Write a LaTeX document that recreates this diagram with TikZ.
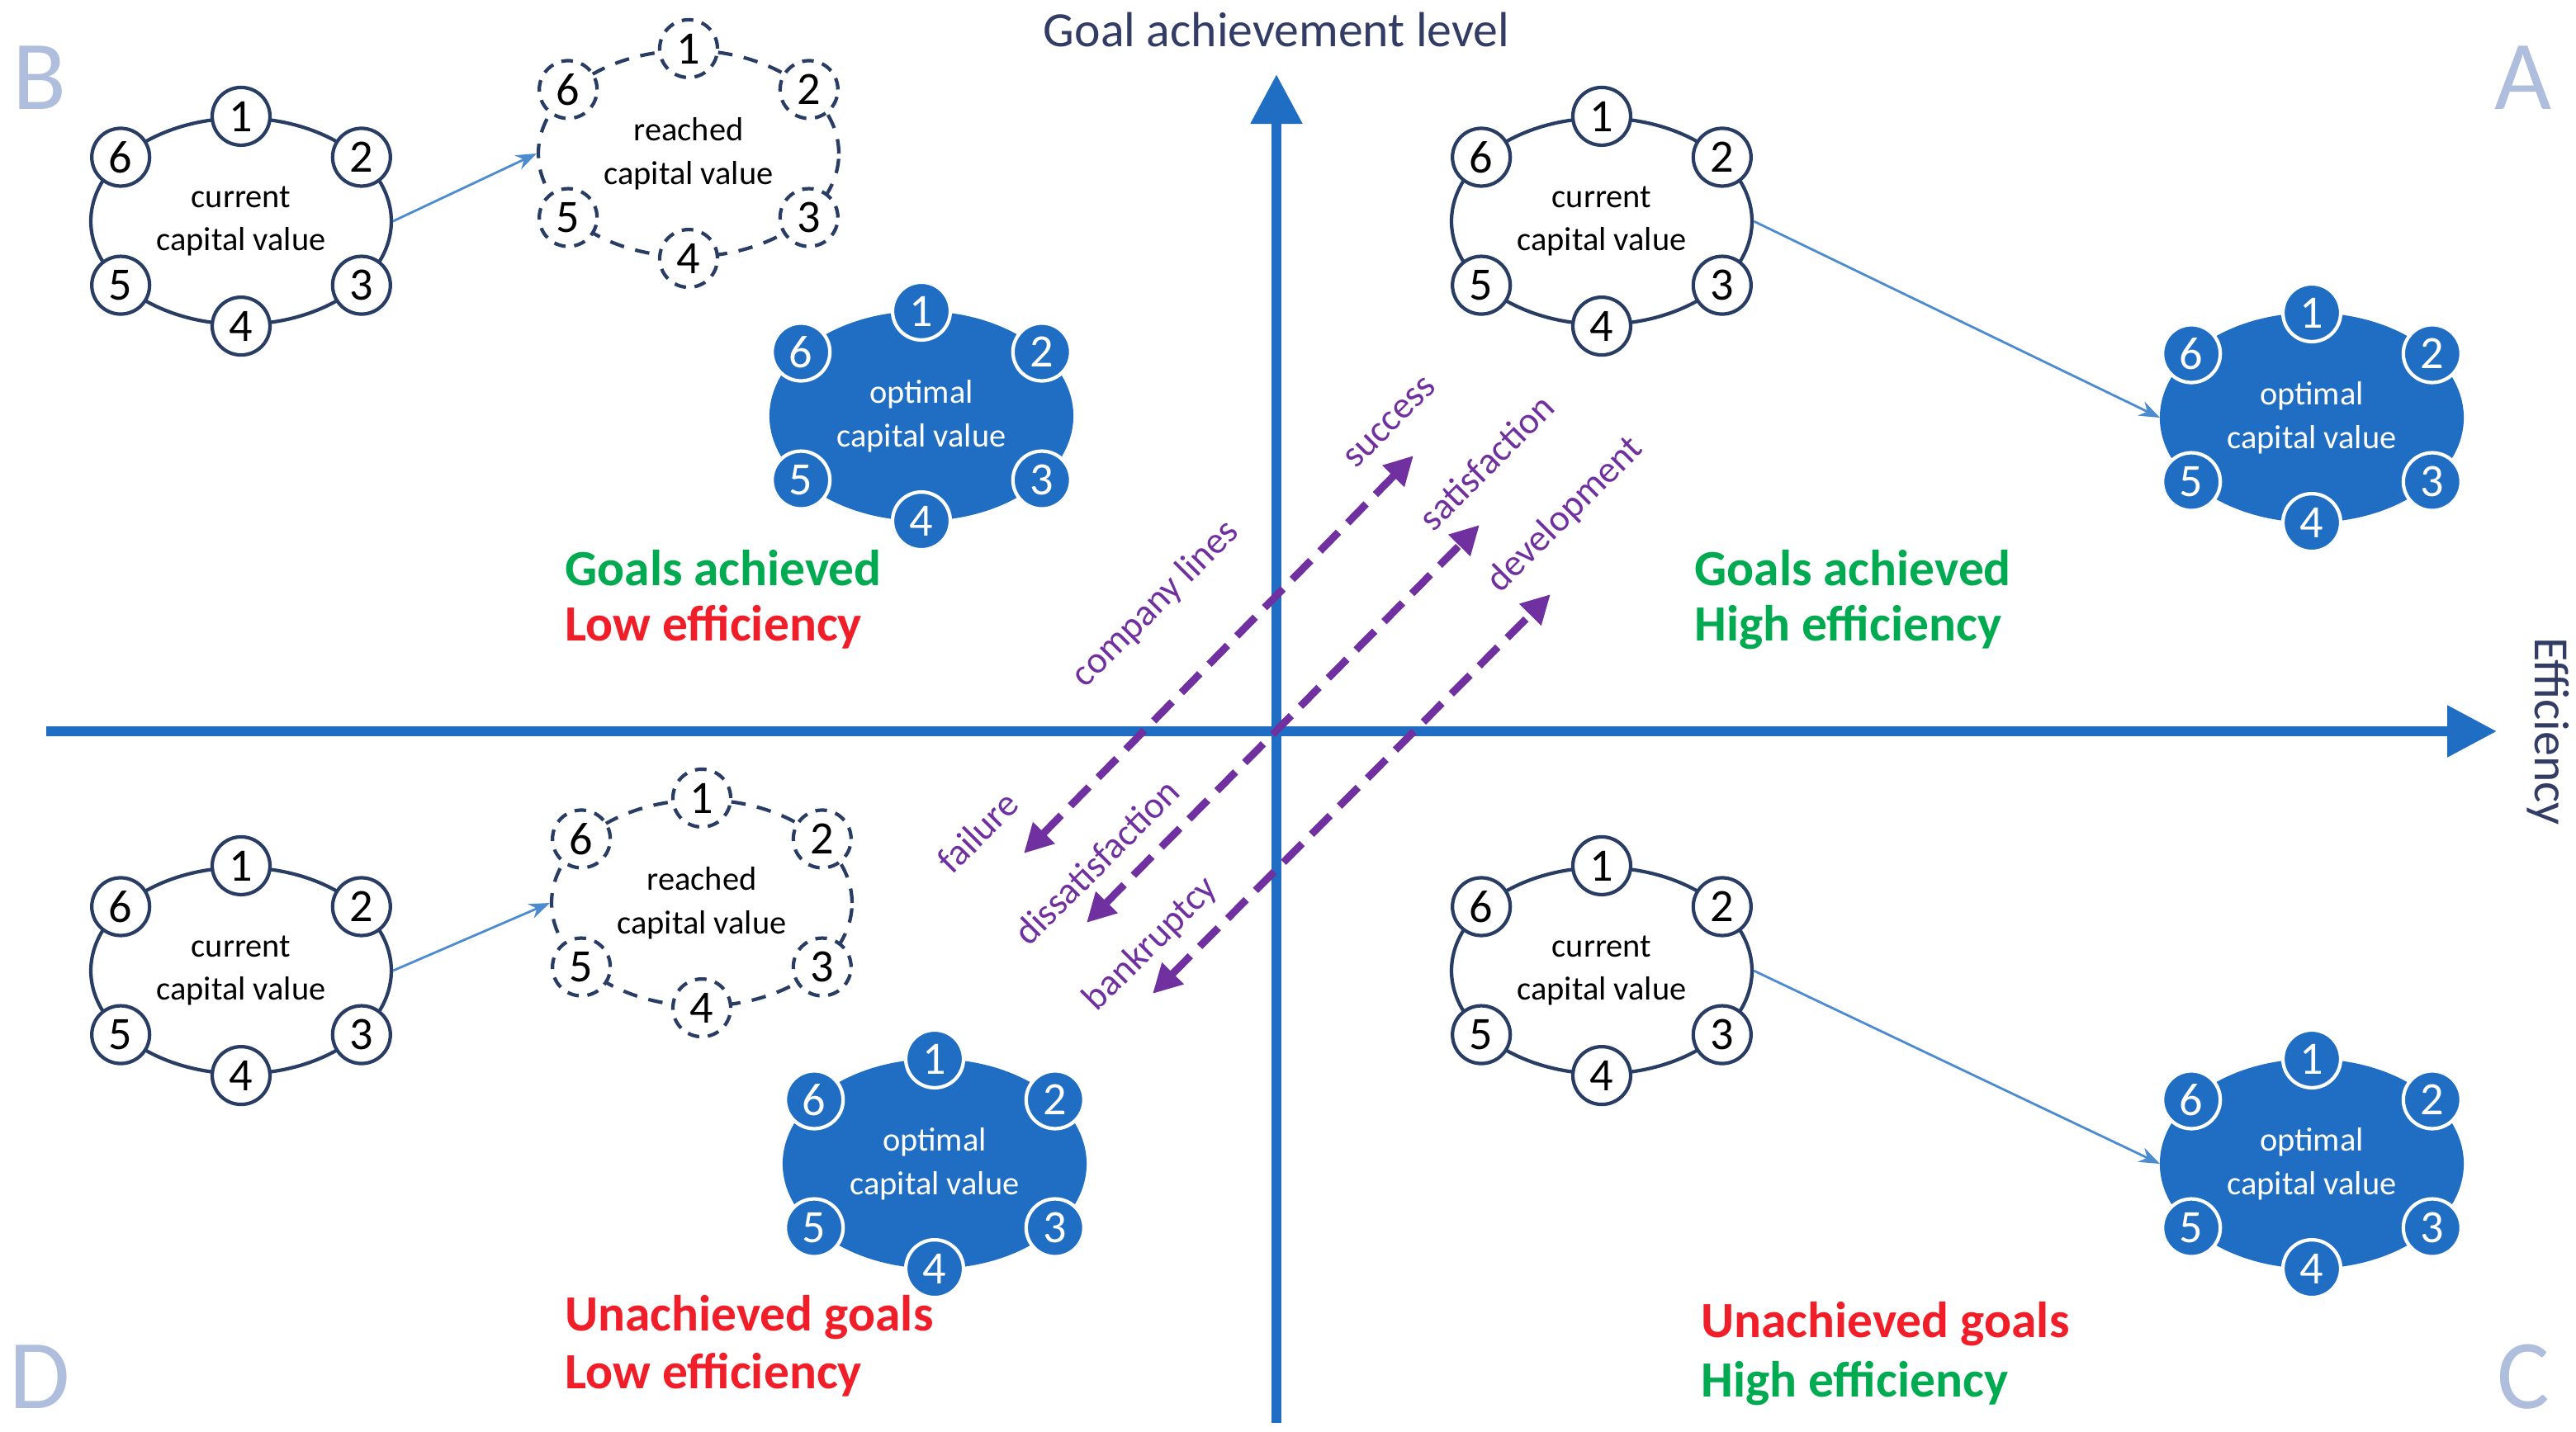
\documentclass[tikz,border=0pt]{standalone}
\usepackage{fontspec}
\setmainfont{Carlito}
\usetikzlibrary{shapes.geometric,arrows.meta}
\definecolor{axb}{RGB}{31,110,196}
\definecolor{pur}{RGB}{112,48,160}
\definecolor{gr}{RGB}{0,170,80}
\definecolor{rd}{RGB}{240,30,40}
\definecolor{navy}{RGB}{50,60,100}
\definecolor{lt}{RGB}{175,190,220}
\definecolor{edge}{RGB}{40,60,100}
\tikzset{
 axis/.style={axb,line width=0.12cm,-{Triangle[length=0.6cm,width=0.6cm]}},
 ell/.style={ellipse,minimum width=3.64cm,minimum height=2.5cm,line width=1.2pt,draw=edge,align=center,font=\fontsize{11.5pt}{15pt}\selectfont,inner sep=0pt},
 cur/.style={ell,fill=white,text=black},
 rea/.style={ell,fill=white,text=black,dashed,dash pattern=on 5pt off 4pt},
 opt/.style={ell,fill=axb,draw=axb,text=white},
 num/.style={circle,minimum size=0.7cm,inner sep=0pt,line width=1.2pt,font=\fontsize{16pt}{18pt}\selectfont},
 ncur/.style={num,draw=edge,fill=white,text=black},
 nrea/.style={num,draw=edge,fill=white,text=black,dashed,dash pattern=on 4pt off 3pt},
 nopt/.style={num,draw=white,fill=axb,text=white},
 link/.style={axb!80,line width=0.8pt,-{Stealth[length=0.25cm]}},
 parr/.style={pur,line width=0.09cm,dash pattern=on 0.32cm off 0.16cm,{Triangle[length=0.35cm,width=0.35cm]}-{Triangle[length=0.35cm,width=0.35cm]}},
 plab/.style={pur,rotate=45,font=\fontsize{13pt}{15pt}\selectfont,inner sep=1pt},
 qlab/.style={anchor=west,font=\bfseries\fontsize{17.5pt}{19pt}\selectfont},
 corner/.style={lt,font=\fontsize{34pt}{36pt}\selectfont,inner sep=1pt}
}
\newcommand\capcl[5]{% name, x, y, kind, text
 \node[#4] (#1) at (#2,#3) {#5};
 \foreach \n/\a in {1/90,2/28,3/-28,4/-90,5/-152,6/152}{
  \node[n#4] (#1n\n) at (#1.\a) {\n};}
}
\begin{document}
\begin{tikzpicture}[x=0.02cm,y=-0.02cm]
\useasboundingbox[fill=white] (0,0) rectangle (1560,867);
% axes
\coordinate (vb) at (773,862); \coordinate (vt) at (773,45);
\coordinate (hl) at (28,443); \coordinate (hr) at (1512,443);
\draw[axis] (vb) -- (vt);
\draw[axis] (hl) -- (hr);
\node[navy,font=\fontsize{17pt}{19pt}\selectfont] (ty) at (773,18) {Goal achievement level};
\node[navy,rotate=-90,font=\fontsize{17pt}{19pt}\selectfont] (tx) at (1543,443) {Efficiency};
\node[corner] (B) at (24,47) {B};
\node[corner] (A) at (1528,47) {A};
\node[corner] (D) at (24,834) {D};
\node[corner] (C) at (1528,834) {C};
% B quadrant
\capcl{cB}{146}{134}{cur}{current\\capital value}
\capcl{rB}{417}{93}{rea}{reached\\capital value}
\capcl{oB}{558}{252}{opt}{optimal\\capital value}
\draw[link] (cB.east) -- (rB.west);
% A quadrant
\capcl{cA}{970}{134}{cur}{current\\capital value}
\capcl{oA}{1400}{253}{opt}{optimal\\capital value}
\draw[link] (cA.east) -- (oA.west);
% D quadrant
\capcl{cD}{146}{588}{cur}{current\\capital value}
\capcl{rD}{425}{547}{rea}{reached\\capital value}
\capcl{oD}{566}{705}{opt}{optimal\\capital value}
\draw[link] (cD.east) -- (rD.west);
% C quadrant
\capcl{cC}{970}{588}{cur}{current\\capital value}
\capcl{oC}{1400}{705}{opt}{optimal\\capital value}
\draw[link] (cC.east) -- (oC.west);
% quadrant labels
\node[qlab,gr] (l1) at (336,344) {Goals achieved};
\node[qlab,rd] (l2) at (336,380) {Low efficiency};
\node[qlab,gr] (l3) at (1020,344) {Goals achieved};
\node[qlab,gr] (l4) at (1020,380) {High efficiency};
\node[qlab,rd] (l5) at (336,798) {Unachieved goals};
\node[qlab,rd] (l6) at (336,833) {Low efficiency};
\node[qlab,rd] (l7) at (1024,802) {Unachieved goals};
\node[qlab,gr] (l8) at (1024,838) {High efficiency};
% purple arrows
\coordinate (p1a) at (856,276); \coordinate (p1b) at (620,517);
\coordinate (p2a) at (896,318); \coordinate (p2b) at (658,559);
\coordinate (p3a) at (939,360); \coordinate (p3b) at (698,602);
\draw[parr] (p1b) -- (p1a);
\draw[parr] (p2b) -- (p2a);
\draw[parr] (p3b) -- (p3a);
\node[plab] (t1) at (700,366) {company lines};
\node[plab] (t2) at (842,256) {success};
\node[plab] (t3) at (592,504) {failure};
\node[plab] (t4) at (900,280) {satisfaction};
\node[plab] (t5) at (664,522) {dissatisfaction};
\node[plab] (t6) at (948,312) {development};
\node[plab] (t7) at (697,572) {bankruptcy};
\end{tikzpicture}
\end{document}
